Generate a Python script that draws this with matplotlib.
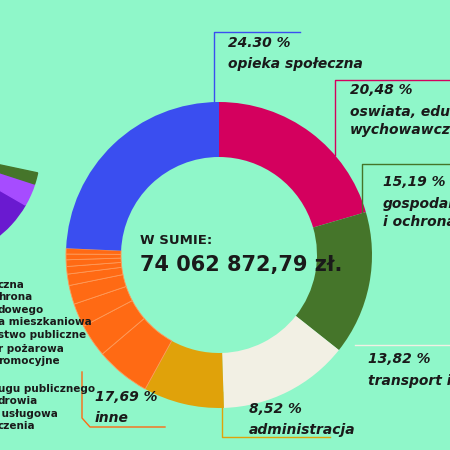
import matplotlib.pyplot as plt
from matplotlib.patches import Wedge

# udzialy wydatkow (%) - zgodnie z ruchem wskazowek zegara od gory
labels = ['oswiata', 'gospodarka', 'transport', 'administracja', 'inne', 'opieka']
values = [20.48, 15.19, 13.82, 8.52, 17.69, 24.30]
colors = ['#d4005e', '#45752a', '#f2f0e4', '#e0a20a', '#ff6a14', '#3a4ef0']
# "inne" podzielone na drobne pozycje
inne_parts = [5.79, 3.5, 2.5, 2.0, 1.2, 0.8, 0.7, 0.6, 0.6]

left_labels = ['czna', 'hrona', 'dowego', 'a mieszkaniowa', 'stwo publiczne',
               'r pożarowa', 'romocyjne', 'ugu publicznego', 'drowia',
               ' usługowa', 'czenia']
left_y = [285, 297, 310, 322, 335, 349, 361, 389, 401, 414, 426]

bg = '#8ff7c9'
fig = plt.figure(figsize=(4.5, 4.5), dpi=100, facecolor=bg)
ax = fig.add_axes([0, 0, 1, 1])
ax.set_facecolor(bg)

H = 450
cx, cy = 219, H - 255
R, W = 153, 55

vals, cols = [], []
for v, c in zip(values, colors):
    if v == 17.69:
        vals += inne_parts
        cols += [c] * len(inne_parts)
    else:
        vals.append(v)
        cols.append(c)
wedges, _ = ax.pie(vals, colors=cols, startangle=90, counterclock=False, center=(cx, cy),
                   radius=R, wedgeprops=dict(width=W, edgecolor='none'))
# cienkie linie miedzy drobnymi pozycjami
for w in wedges[4:4 + len(inne_parts)]:
    w.set_edgecolor('#ff9a5a')
    w.set_linewidth(0.6)

# czesciowy fioletowy wykres z lewej
for a1, a2, c in [(-15, 10, '#6a1ad0'), (10, 22, '#a64cff'), (22, 28, '#45752a')]:
    ax.add_patch(Wedge((-70, H - 150), 110, a1 - 40, a2 - 40, width=45, color=c))

ax.set_xlim(0, 450)
ax.set_ylim(0, 450)
ax.set_aspect('auto')
ax.axis('off')

tk = dict(color='#1a1a1a', fontsize=10, style='italic', fontweight='bold', family='DejaVu Sans')
ax.text(140, H - 240, 'W SUMIE:', color='#1a1a1a', fontsize=9.5, fontweight='bold', va='center')
ax.text(140, H - 265, '74 062 872,79 zł.', color='#1a1a1a', fontsize=15, fontweight='bold', va='center')

def callout(xs, ys, c, t1, t2, x, y1, y2):
    ax.plot(xs, [H - v for v in ys], color=c, lw=1)
    ax.text(x, H - y1, t1, va='center', **tk)
    ax.text(x, H - y2, t2, va='center', linespacing=1.3, **tk)

callout([214, 214, 300], [102, 32, 32], '#3a4ef0', '24.30 %', 'opieka społeczna', 228, 43, 64)
callout([335, 335, 450], [155, 80, 80], '#d4005e', '20,48 %', 'oswiata, edukacja\nwychowawcza', 350, 90, 121)
callout([362, 362, 450], [218, 164, 164], '#45752a', '15,19 %', 'gospodarka\ni ochrona', 383, 182, 213)
callout([355, 450], [345, 345], '#f2f0e4', '13,82 %', 'transport i łączność', 368, 359, 381)
callout([222, 222, 330], [392, 437, 437], '#e0a20a', '8,52 %', 'administracja', 249, 409, 430)
callout([82, 82, 90, 165], [372, 418, 427, 427], '#ff6a14', '17,69 %', 'inne', 95, 397, 418)

for t, y in zip(left_labels, left_y):
    ax.text(-2, H - y, t, color='#1a1a1a', fontsize=7.5, fontweight='bold', va='center')

fig.savefig('out.png', dpi=100, facecolor=bg)
